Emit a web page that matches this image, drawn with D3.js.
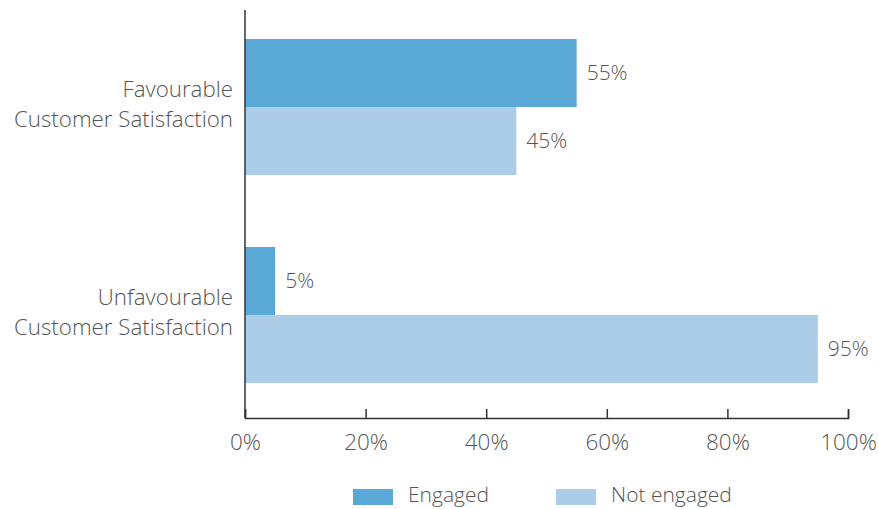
<!DOCTYPE html>
<html><head><meta charset="utf-8">
<script src="https://cdn.jsdelivr.net/npm/d3@7"></script>
<style>body{margin:0;background:#fff}svg{display:block}text{font-family:"Open Sans",sans-serif;font-weight:300;fill:#555}</style>
</head><body><svg id="c" width="878" height="509"></svg>
<script>
const categories = [["Favourable","Customer Satisfaction"],["Unfavourable","Customer Satisfaction"]];
const seriesNames = ["Engaged","Not engaged"];
const engaged = [55, 5];
const notEngaged = [45, 95];
const tickValues = [0,20,40,60,80,100];
const colors = ["#5aa8d6","#abcde8"];

const svg = d3.select("#c");
const x = d3.scaleLinear().domain([0,100]).range([245,848]);
const y0 = d3.scaleBand().domain(d3.range(categories.length)).range([10,418]).paddingInner(0.346).paddingOuter(0.154).align(0.453);
const y1 = d3.scaleBand().domain(d3.range(seriesNames.length)).range([0,y0.bandwidth()]);
const series = [engaged, notEngaged];

categories.forEach((c,i)=>{
  series.forEach((s,j)=>{
    svg.append("rect").attr("x",x(0)).attr("y",y0(i)+y1(j)).attr("width",x(s[i])-x(0)).attr("height",y1.bandwidth()).attr("fill",colors[j]);
    svg.append("text").attr("x",x(s[i])+10).attr("y",y0(i)+y1(j)+y1.bandwidth()/2).attr("dy","0.35em").attr("font-size",21).text(s[i]+"%");
  });
  const cy = y0(i)+y0.bandwidth()/2 - 3;
  const t = svg.append("text").attr("text-anchor","end").attr("font-size",22.3);
  c.forEach((line,k)=>t.append("tspan").attr("x",233).attr("y",cy+(k-0.5)*30).attr("dy","0.35em").text(line));
});

const ax = svg.append("g").attr("transform","translate(0,418)")
  .call(d3.axisBottom(x).tickValues(tickValues).tickSize(-9).tickPadding(16).tickFormat(d=>d+"%"));
ax.select(".domain").attr("stroke","#333").attr("stroke-width",1.5);
ax.selectAll(".tick line").attr("stroke","#333").attr("stroke-width",1.5);
ax.selectAll(".tick text").attr("font-size",22.5).attr("fill","#555").attr("font-family",null);

svg.append("line").attr("x1",x(0)).attr("x2",x(0)).attr("y1",10).attr("y2",418).attr("stroke","#333").attr("stroke-width",1.5);

const legX = [353,556];
seriesNames.forEach((n,j)=>{
  svg.append("rect").attr("x",legX[j]).attr("y",489).attr("width",40).attr("height",16).attr("fill",colors[j]);
  svg.append("text").attr("x",legX[j]+55).attr("y",495).attr("dy","0.35em").attr("font-size",21).text(n);
});
</script></body></html>
